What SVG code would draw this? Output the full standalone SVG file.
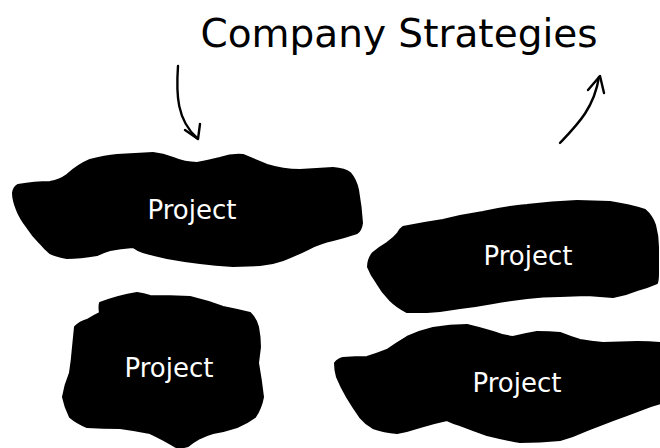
<svg xmlns="http://www.w3.org/2000/svg" width="660" height="448" viewBox="0 0 660 448">
<defs>
<style>
.blob{fill:#000;stroke:#000;stroke-width:2;stroke-linejoin:round}
.lbl{font-family:"DejaVu Sans","Liberation Sans",sans-serif;font-size:26px;fill:#fff;text-anchor:middle}
.title{font-family:"DejaVu Sans","Liberation Sans",sans-serif;font-size:39px;fill:#000;text-anchor:middle}
.arr{fill:none;stroke:#000;stroke-width:2.4;stroke-linecap:round;stroke-linejoin:round}
</style>
</defs>
<rect width="660" height="448" fill="#fff"/>
<text class="title" x="399" y="47">Company Strategies</text>
<g id="project1">
<path class="blob" d="M18,185 Q35,182 50,182 Q60,180 67,175 Q78,165 90,160 Q105,156 117,155 L153,153 Q163,154 173,158 Q185,163 197,163 Q208,161 220,158 Q232,154 243,155 Q255,160 267,165 Q283,170 300,170 L333,168 Q345,169 350,173 Q356,180 358,190 Q361,207 362,223 Q361,230 357,233 Q345,237 333,240 Q320,243 310,248 Q296,255 283,260 Q272,264 260,265 L233,266 Q215,265 200,263 Q183,261 167,258 Q153,255 143,252 Q137,250 133,247 Q120,248 110,250 Q103,252 97,255 Q80,258 67,258 Q56,256 50,253 Q44,248 40,243 Q32,235 27,227 Q20,218 17,210 Q13,200 13,193 Q14,187 18,185 Z"/>
<text class="lbl" x="192" y="219">Project</text>
</g>
<g id="project2">
<path class="blob" d="M403,227 Q423,223 443,220 Q463,215 483,212 Q505,207 527,205 Q552,202 577,201 L610,202 Q630,205 645,210 Q652,216 655,225 Q658,236 658,247 L658,273 Q658,280 657,283 Q648,287 637,290 Q625,295 613,297 Q600,296 587,295 L560,296 Q543,296 527,298 Q510,300 493,303 Q477,306 460,308 Q443,311 427,312 L407,312 Q397,307 390,300 Q382,292 377,283 Q371,275 368,267 Q368,259 373,253 Q380,247 387,243 Q394,238 398,233 Q400,229 403,227 Z"/>
<text class="lbl" x="528" y="265">Project</text>
</g>
<g id="project3">
<path class="blob" d="M100,303 Q118,296 137,293 Q144,294 150,296 Q170,296 190,297 Q207,301 223,307 Q238,310 250,313 Q256,319 258,327 Q260,337 260,347 Q259,355 258,363 Q261,380 263,397 Q261,408 255,417 Q247,423 237,427 Q225,431 213,433 Q206,435 200,438 Q193,442 188,446 Q182,448 176,447 Q165,440 150,433 Q135,430 120,428 Q103,428 87,427 Q77,423 70,417 Q65,407 63,397 Q65,385 70,373 Q72,360 73,347 Q74,337 75,327 Q80,322 87,320 Q94,316 100,313 Q99,307 100,303 Z"/>
<text class="lbl" x="169" y="377">Project</text>
</g>
<g id="project4">
<path class="blob" d="M467,325 Q480,328 493,332 Q503,336 513,337 Q525,334 537,332 Q549,332 560,333 Q570,337 580,340 Q591,342 603,343 L637,342 Q650,342 661,343 L661,403 Q650,406 640,410 Q627,415 613,420 Q600,425 587,430 Q574,436 560,440 Q540,442 520,442 Q503,439 487,435 Q473,430 460,425 Q453,423 447,420 Q433,423 420,427 Q408,431 397,433 Q384,432 373,428 Q365,423 360,417 Q353,407 347,397 Q341,387 337,377 Q335,370 335,363 Q338,359 343,358 Q355,357 367,357 Q377,354 387,350 Q397,343 407,337 Q420,331 433,328 Q450,325 467,325 Z"/>
<text class="lbl" x="517" y="392">Project</text>
</g>
<g id="connectors">
<path class="arr" d="M178,66 C176,95 177,120 197,138"/>
<path class="arr" d="M185,130 L198,139 L200,124"/>
<path class="arr" d="M560,143 C578,124 594,108 599,77"/>
<path class="arr" d="M588,90 L600,76 L604,93"/>
</g>
</svg>
